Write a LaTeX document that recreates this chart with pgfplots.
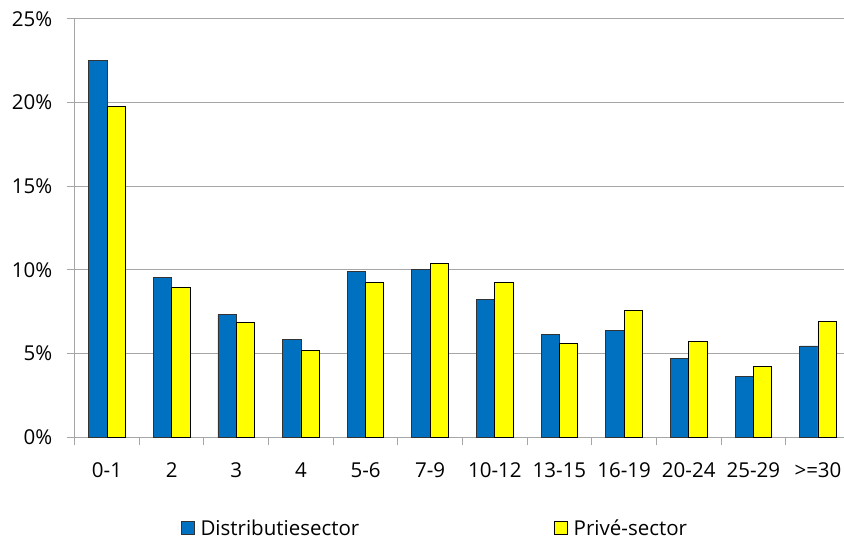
\documentclass[border=0pt]{standalone}
\usepackage{fontspec}
\setmainfont{Open Sans}
\usepackage{pgfplots}
\usepackage{pgfplotstable}
\pgfplotsset{compat=1.18}
\definecolor{bblue}{RGB}{0,112,192}
\definecolor{byellow}{RGB}{255,255,0}
\definecolor{gridgray}{RGB}{166,166,166}
\pgfplotstableread{
x dist priv
0 22.5 19.8
1 9.55 8.95
2 7.33 6.87
3 5.86 5.20
4 9.92 9.23
5 10.05 10.37
6 8.26 9.23
7 6.13 5.63
8 6.40 7.60
9 4.70 5.74
10 3.62 4.22
11 5.46 6.93
}\data
\begin{document}
\begin{tikzpicture}[font=\fontsize{20.5}{24}\selectfont]
\path[use as bounding box] (-74.7pt,-102.7pt) rectangle (769.3pt,437.3pt);
\begin{axis}[
 at={(0pt,0pt)}, anchor=south west,
 scale only axis, width=775.6pt, height=418.3pt,
 ybar=0pt, bar width=0.283,
 xmin=-0.5, xmax=11.5, ymin=0, ymax=25,
 axis lines*=left,
 axis line style={-, gridgray, line width=1pt},
 ymajorgrids, grid style={gridgray, line width=1pt},
 tick align=outside, major tick length=8pt, minor tick length=8pt,
 tick style={gridgray, line width=1pt},
 every major x tick/.append style={draw=none},
 xtick={0,...,11},
 xticklabels={0-1,2,3,4,5-6,7-9,10-12,13-15,16-19,20-24,25-29,>=30},
 minor xtick={-0.5,0.5,...,11.5},
 ytick={0,5,...,25},
 yticklabels={0\%,5\%,10\%,15\%,20\%,25\%},
 xticklabel style={yshift=-14pt},
 yticklabel style={xshift=-11pt},
 /pgf/number format/assume math mode=true,
 legend style={at={(rel axis cs:0.137,-0.2168)}, anchor=west, draw=none, fill=none,
   legend columns=2, inner sep=0pt,
   /tikz/every even column/.append style={column sep=193pt}},
 legend image code/.code={\draw[#1] (0pt,-6.2pt) rectangle (12.4pt,6.2pt); \path[draw=none, fill=none] (0pt,0pt) -- (17pt,0pt);},
]
\addplot[fill=bblue, draw=black!80, line width=0.8pt] table[x=x, y=dist] {\data};
\addplot[fill=byellow, draw=black, line width=0.8pt] table[x=x, y=priv] {\data};
\legend{Distributiesector, Privé-sector}
\end{axis}
\end{tikzpicture}
\end{document}
